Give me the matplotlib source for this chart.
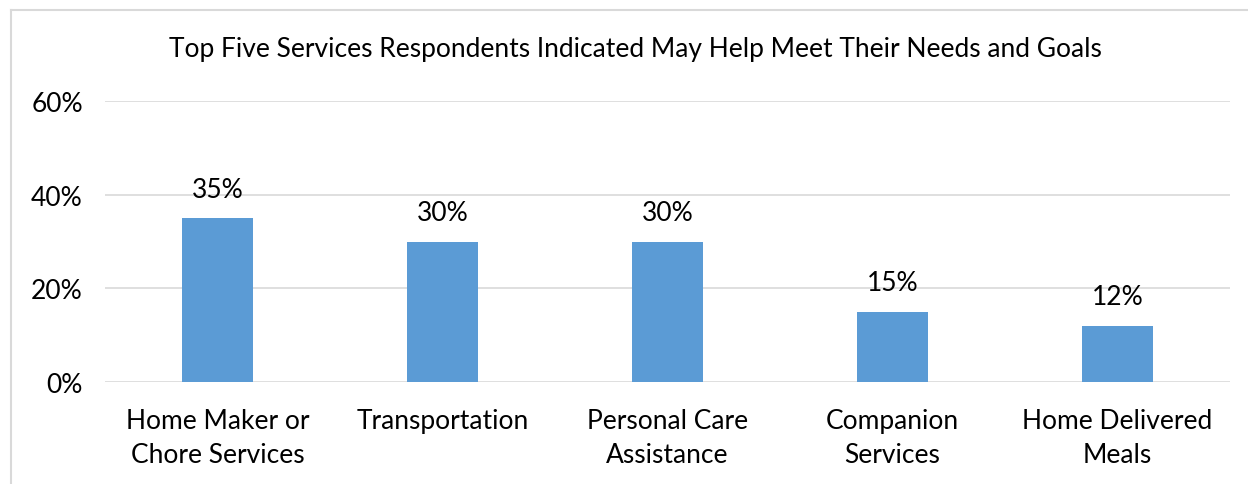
import matplotlib.pyplot as plt
from matplotlib.lines import Line2D
from matplotlib.ticker import FuncFormatter

categories = ["Home Maker or\nChore Services", "Transportation", "Personal Care\nAssistance",
              "Companion\nServices", "Home Delivered\nMeals"]
values = [0.35, 0.30, 0.30, 0.15, 0.12]
yticks = [0.0, 0.2, 0.4, 0.6]
title = "Top Five Services Respondents Indicated May Help Meet Their Needs and Goals"

plt.rcParams['font.family'] = ['Lato', 'DejaVu Sans']
fs = 19

W, H = 1248, 485
fig = plt.figure(figsize=(W / 100, H / 100), dpi=100)
ax = fig.add_axes([105 / W, 1 - 383 / H, (1230 - 105) / W, (383 - 102) / H])

x = range(len(categories))
ax.bar(x, values, width=0.315, color='#5b9bd5', zorder=3)
for xi, v in zip(x, values):
    ax.text(xi, v + 0.062, f"{v:.0%}", ha='center', va='center', fontsize=fs, color='#000000')

ax.set_xlim(-0.5, len(categories) - 0.5)
ax.set_ylim(0, 0.6)
ax.set_yticks(yticks)
ax.yaxis.set_major_formatter(FuncFormatter(lambda v, p: f"{v:.0%}"))
ax.set_xticks(list(x))
ax.set_xticklabels(categories, fontsize=fs, linespacing=1.42)
ax.tick_params(axis='y', labelsize=fs, length=0, pad=16)
ax.tick_params(axis='x', length=0, pad=19)
ax.grid(axis='y', color='#d9d9d9', linewidth=1.2, zorder=0)
for s in ax.spines.values():
    s.set_visible(False)

fig.text(635 / W, 1 - 50 / H, title, ha='center', va='center', fontsize=fs)

# chart border (only top and left edges are visible in the crop)
fig.add_artist(Line2D([11 / W, 1], [1 - 11 / H, 1 - 11 / H], color='#d9d9d9', linewidth=1.5))
fig.add_artist(Line2D([11 / W, 11 / W], [0, 1 - 11 / H], color='#d9d9d9', linewidth=1.5))

fig.savefig('out.png', dpi=100)
